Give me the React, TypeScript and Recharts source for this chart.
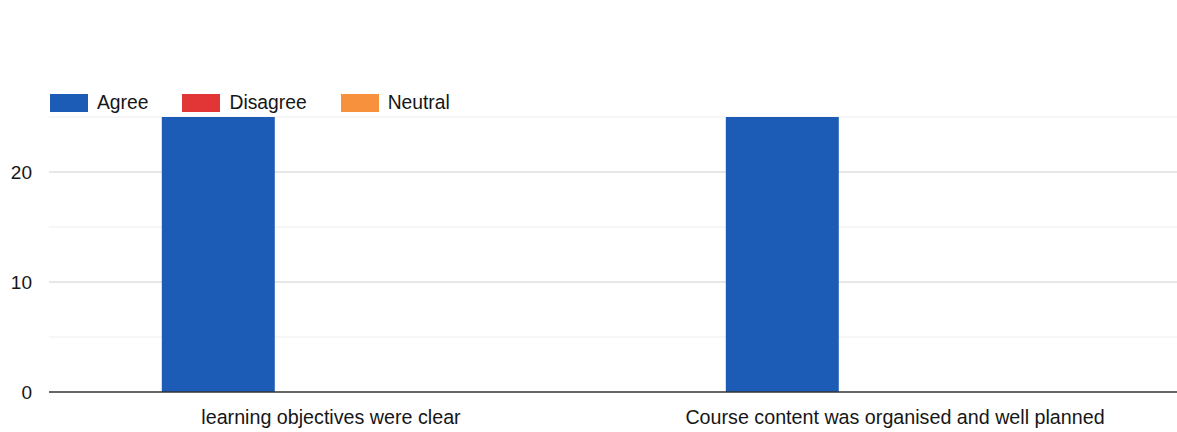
import { BarChart, Bar, XAxis, YAxis, CartesianGrid } from "recharts";

const statements = ["learning objectives were clear", "Course content was organised and well planned"];
const agree = [25, 25];
const disagree = [0, 0];
const neutral = [0, 0];
const yTicks = [0, 10, 20];
const minorTicks = [5, 15, 25];

const series = [
  { key: "Agree", color: "#1d5cb6", values: agree },
  { key: "Disagree", color: "#e23535", values: disagree },
  { key: "Neutral", color: "#f7913d", values: neutral },
];

const chartData = statements.map((name, i) => {
  const row: Record<string, string | number> = { name };
  series.forEach((s) => {
    row[s.key] = s.values[i];
  });
  return row;
});

const font = "'Liberation Sans', Arial, sans-serif";

export default function App() {
  return (
    <div style={{ position: "fixed", left: 0, top: 0, width: 1177, height: 432, background: "#fff", fontFamily: font }}>
      <BarChart
        width={1177}
        height={432}
        data={chartData}
        margin={{ top: 62, right: 0, left: 0, bottom: 0 }}
        barCategoryGap="20%"
        barGap={0}
      >
        <CartesianGrid vertical={false} stroke="#eeeeee" horizontalValues={minorTicks} />
        <CartesianGrid vertical={false} stroke="#cfcfcf" horizontalValues={yTicks.filter((t) => t > 0)} />
        <XAxis
          dataKey="name"
          height={40}
          tickLine={false}
          axisLine={{ stroke: "#333", strokeWidth: 1.5 }}
          tickMargin={12}
          tick={{ fill: "#161616", fontSize: 19.7, fontFamily: font }}
          interval={0}
        />
        <YAxis
          width={49}
          domain={[0, 30]}
          ticks={yTicks}
          axisLine={false}
          tickLine={false}
          tickSize={0}
          tickMargin={17}
          tick={{ fill: "#161616", fontSize: 19, fontFamily: font }}
        />
        {series.map((s) => (
          <Bar key={s.key} dataKey={s.key} fill={s.color} isAnimationActive={false} />
        ))}
      </BarChart>

      <div style={{ position: "absolute", left: 50, top: 92, display: "flex", alignItems: "center", fontSize: 19.3, color: "#161616" }}>
        {series.map((s) => (
          <div key={s.key} style={{ display: "flex", alignItems: "center", marginRight: 34 }}>
            <span style={{ display: "inline-block", width: 38, height: 18, background: s.color, marginRight: 9 }} />
            <span>{s.key}</span>
          </div>
        ))}
      </div>
    </div>
  );
}
